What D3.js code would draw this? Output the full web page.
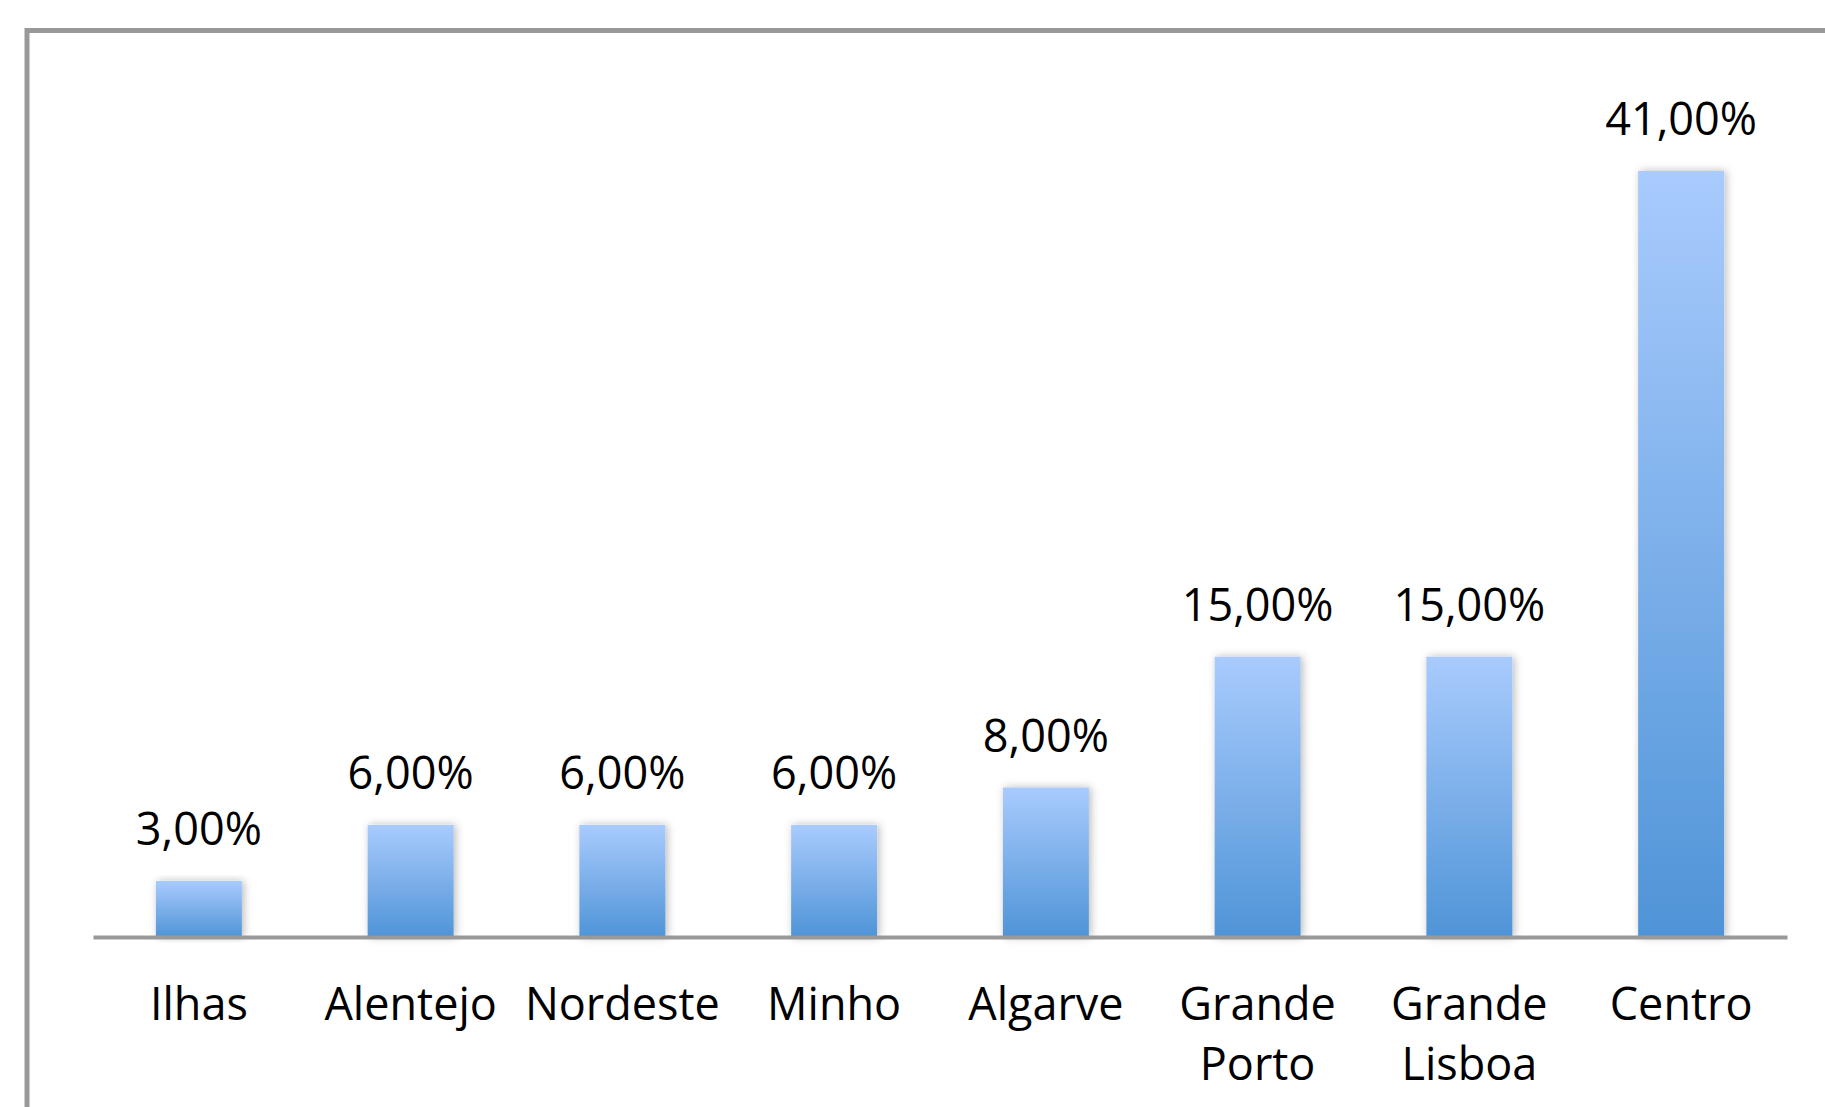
<!DOCTYPE html>
<html>
<head>
<meta charset="utf-8">
<script src="https://cdn.jsdelivr.net/npm/d3@7"></script>
<style>
  html, body { margin: 0; padding: 0; background: #fff; overflow: hidden; }
  svg { display: block; }
</style>
</head>
<body>
<svg id="chart" width="1825" height="1107"></svg>
<script>
const categories = ["Ilhas", "Alentejo", "Nordeste", "Minho", "Algarve", "Grande Porto", "Grande Lisboa", "Centro"];
const values = [3, 6, 6, 6, 8, 15, 15, 41];
const labels = ["3,00%", "6,00%", "6,00%", "6,00%", "8,00%", "15,00%", "15,00%", "41,00%"];

const W = 1825, H = 1107;
const svg = d3.select("#chart");
const font = "'Open Sans', 'Noto Sans', sans-serif";

const defs = svg.append("defs");
const grad = defs.append("linearGradient")
  .attr("id", "barGrad").attr("x1", 0).attr("y1", 0).attr("x2", 0).attr("y2", 1);
grad.append("stop").attr("offset", "0%").attr("stop-color", "#a9cbfd");
grad.append("stop").attr("offset", "100%").attr("stop-color", "#4f94d7");

const filt = defs.append("filter").attr("id", "shadow")
  .attr("x", "-30%").attr("y", "-10%").attr("width", "160%").attr("height", "120%");
filt.append("feDropShadow").attr("dx", 2).attr("dy", 0).attr("stdDeviation", 4)
  .attr("flood-color", "#000").attr("flood-opacity", 0.28);

// outer frame (extends past right/bottom edges)
svg.append("rect")
  .attr("x", 27).attr("y", 30.5).attr("width", W + 20).attr("height", H + 20)
  .attr("fill", "none").attr("stroke", "#999").attr("stroke-width", 5);

const x = d3.scaleBand().domain(categories).range([93, 1787])
  .paddingInner(0.594).paddingOuter(0.297);
const y = d3.scaleLinear().domain([0, 41]).range([937, 171]);

svg.append("g").selectAll("rect").data(values).join("rect")
  .attr("x", (d, i) => x(categories[i]))
  .attr("y", d => y(d))
  .attr("width", x.bandwidth())
  .attr("height", d => y(0) - y(d))
  .attr("fill", "url(#barGrad)")
  .attr("filter", "url(#shadow)");

// baseline axis
const axis = d3.axisBottom(x).tickSize(0).tickFormat("");
const ag = svg.append("g").attr("transform", `translate(0,${y(0)})`).call(axis);
ag.select(".domain").attr("stroke", "#999").attr("stroke-width", 4);

// value labels
svg.append("g").selectAll("text").data(values).join("text")
  .attr("x", (d, i) => x(categories[i]) + x.bandwidth() / 2)
  .attr("y", d => y(d) - 36)
  .attr("text-anchor", "middle")
  .attr("font-family", font).attr("font-size", 45).attr("fill", "#000")
  .text((d, i) => labels[i]);

// category labels
const cg = svg.append("g");
categories.forEach((c, i) => {
  const words = c.split(" ");
  const t = cg.append("text")
    .attr("x", x(c) + x.bandwidth() / 2)
    .attr("y", 1020)
    .attr("text-anchor", "middle")
    .attr("font-family", font).attr("font-size", 45).attr("fill", "#000");
  words.forEach((w, j) => {
    t.append("tspan").attr("x", x(c) + x.bandwidth() / 2).attr("y", 1020 + j * 60).text(w);
  });
});
</script>
</body>
</html>
